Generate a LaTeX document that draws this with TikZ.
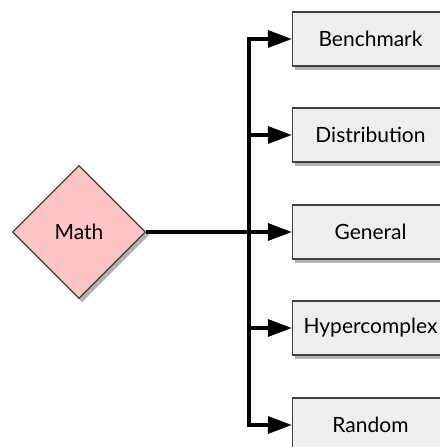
\documentclass[tikz,border=0pt]{standalone}
\usepackage{fontspec}
\setmainfont{Lato}
\usetikzlibrary{shapes.geometric,arrows.meta}

\definecolor{leaffill}{HTML}{EEEEEE}
\definecolor{rootfill}{HTML}{FFC4C4}
\definecolor{edgegray}{HTML}{404040}

\tikzset{
  leaf/.style={shape=rectangle,draw=edgegray,line width=1.3pt,fill=leaffill,minimum width=156pt,minimum height=54pt,
    font=\fontsize{21}{24}\selectfont},
  root/.style={shape=diamond,draw=edgegray,line width=1.1pt,fill=rootfill,minimum width=133pt,minimum height=133pt,
    inner sep=0pt,font=\fontsize{21}{24}\selectfont},
  shade/.style={fill=black!30},
  link/.style={draw=black,line width=3.4pt,-{Triangle[length=24pt,width=17pt]}}
}

\begin{document}
\begin{tikzpicture}[x=1pt,y=1pt]
\useasboundingbox (0,0) rectangle (439,-447);
% shadows
\fill[shade] (82,-168) -- (149,-235) -- (82,-302) -- (15,-235) -- cycle;
\foreach \yy in {39,135,232,328,425}
  \fill[shade] (295,-\yy+23) rectangle (452,-\yy-31);

\node[root] (math) at (79,-232) {Math};
\node[leaf] (bench) at (370.5,-39) {Benchmark};
\node[leaf] (dist) at (370.5,-135) {Distribution};
\node[leaf] (gen) at (370.5,-232) {General};
\node[leaf] (hyper) at (370.5,-328) {Hypercomplex};
\node[leaf] (rand) at (370.5,-425) {Random};
\coordinate (trunk) at (249,-232);

\draw[link] (math) -- (gen);
\draw[link] (trunk) |- (bench.west);
\draw[link] (trunk) |- (dist.west);
\draw[link] (trunk) |- (hyper.west);
\draw[link] (trunk) |- (rand.west);
\end{tikzpicture}
\end{document}
